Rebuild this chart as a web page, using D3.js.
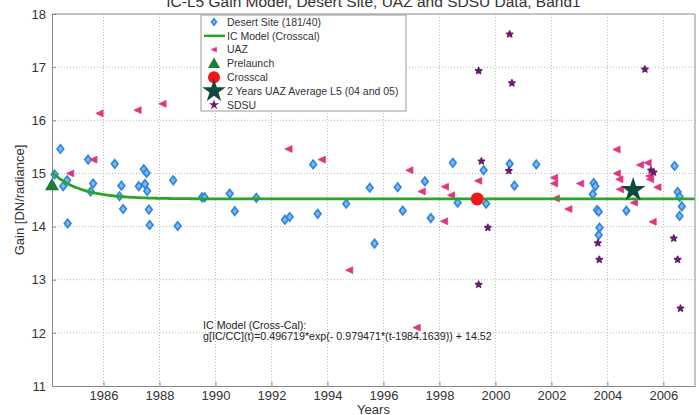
<!DOCTYPE html>
<html>
<head>
<meta charset="utf-8">
<script src="https://cdn.jsdelivr.net/npm/d3@7/dist/d3.min.js"></script>
<style>
  html, body { margin: 0; padding: 0; background: #fff; }
  svg { display: block; font-family: Arial, "Liberation Sans", sans-serif; }
</style>
</head>
<body>
<svg id="chart" width="699" height="415"></svg>
<script>
// ---- data ----
const chartTitle = "IC-L5 Gain Model, Desert Site, UAZ and SDSU Data, Band1";
const xTicks = [1986, 1988, 1990, 1992, 1994, 1996, 1998, 2000, 2002, 2004, 2006];
const yTicks = [11, 12, 13, 14, 15, 16, 17, 18];

// Desert Site (181/40) gains: [year, gain]
const desertSite = [
  [1984.25, 14.98], [1984.46, 15.46], [1984.56, 14.76], [1984.70, 14.87], [1984.72, 14.06],
  [1985.45, 15.26], [1985.54, 14.66], [1985.63, 14.81],
  [1986.40, 15.18], [1986.57, 14.57], [1986.64, 14.77], [1986.70, 14.33],
  [1987.26, 14.76], [1987.44, 15.08], [1987.48, 14.80], [1987.54, 15.01], [1987.56, 14.67],
  [1987.62, 14.32], [1987.65, 14.03], [1988.49, 14.87], [1988.65, 14.01],
  [1989.52, 14.55], [1989.61, 14.55], [1990.51, 14.62], [1990.69, 14.29], [1991.46, 14.54],
  [1992.48, 14.13], [1992.65, 14.18], [1993.49, 15.17], [1993.65, 14.24],
  [1994.67, 14.43], [1995.51, 14.73], [1995.68, 13.68],
  [1996.51, 14.74], [1996.69, 14.30], [1997.48, 14.85], [1997.69, 14.16],
  [1998.48, 15.20], [1998.65, 14.45], [1999.58, 15.06], [1999.67, 14.43],
  [2000.51, 15.18], [2000.68, 14.77], [2001.46, 15.17],
  [2003.48, 14.61], [2003.51, 14.82], [2003.57, 14.76], [2003.63, 14.31], [2003.69, 14.28],
  [2003.72, 13.98], [2003.69, 13.84], [2004.68, 14.30],
  [2006.40, 15.14], [2006.51, 14.65], [2006.58, 14.56], [2006.66, 14.38], [2006.58, 14.20]
];

// UAZ reflectance-based gains
const uaz = [
  [1984.82, 15.00], [1985.65, 15.26], [1985.87, 16.13], [1987.23, 16.19], [1988.12, 16.31],
  [1992.62, 15.46], [1993.81, 15.26], [1994.79, 13.18],
  [1996.94, 15.06], [1997.20, 12.10], [1997.38, 14.66], [1998.18, 14.10], [1998.21, 14.75],
  [1998.43, 14.59], [1999.40, 14.86],
  [2002.11, 14.92], [2002.11, 14.81], [2002.17, 14.53], [2002.62, 14.33], [2003.04, 14.81],
  [2004.34, 15.45], [2004.35, 15.00], [2004.44, 14.89], [2004.46, 14.70], [2004.96, 14.45],
  [2005.18, 15.16], [2005.45, 15.20], [2005.51, 14.95], [2005.54, 14.89], [2005.63, 14.09],
  [2005.80, 14.74]
];

// SDSU gains
const sdsu = [
  [1999.40, 16.93], [1999.50, 15.23], [1999.73, 13.98], [1999.40, 12.91],
  [2000.51, 17.62], [2000.59, 16.70], [2000.48, 15.05],
  [2003.66, 13.69], [2003.71, 13.38],
  [2005.34, 16.96], [2005.56, 15.06], [2005.65, 15.02],
  [2006.37, 13.78], [2006.51, 13.38], [2006.61, 12.46]
];

const prelaunch = [[1984.16, 14.78]];
const crosscal = [[1999.35, 14.52]];
const uazAverage = [[2004.92, 14.69]];

// IC model (Cross-Cal) coefficients: g(t) = A*exp(-K*(t - T0)) + C
const modelA = 0.496719, modelK = 0.979471, modelT0 = 1984.1639, modelC = 14.52;

(function draw() {
  const svg = d3.select("#chart");
  const plotLeft = 52, plotRight = 695, plotTop = 14, plotBottom = 386;
  const x = d3.scaleLinear().domain([1984.16, 2007.13]).range([plotLeft, plotRight]);
  const y = d3.scaleLinear().domain([11, 18]).range([plotBottom, plotTop]);

  const textColor = "#333";
  const gridColor = "#b8b8b8";
  const frameColor = "#8a8a8a";

  // grid
  const grid = svg.append("g");
  grid.selectAll("line.vx").data(xTicks).join("line")
    .attr("x1", d => x(d)).attr("x2", d => x(d))
    .attr("y1", plotTop).attr("y2", plotBottom)
    .attr("stroke", gridColor).attr("stroke-width", 1).attr("stroke-dasharray", "1,2");
  grid.selectAll("line.hy").data(yTicks.slice(1, -1)).join("line")
    .attr("x1", plotLeft).attr("x2", plotRight)
    .attr("y1", d => y(d)).attr("y2", d => y(d))
    .attr("stroke", gridColor).attr("stroke-width", 1).attr("stroke-dasharray", "1,2");

  // axes
  const xAxis = d3.axisBottom(x).tickValues(xTicks).tickFormat(d3.format("d")).tickSizeInner(-4).tickSizeOuter(0).tickPadding(5);
  const yAxis = d3.axisLeft(y).tickValues(yTicks).tickFormat(d3.format("d")).tickSizeInner(-4).tickSizeOuter(0).tickPadding(6);
  const gx = svg.append("g").attr("transform", `translate(0,${plotBottom})`).call(xAxis);
  const gy = svg.append("g").attr("transform", `translate(${plotLeft},0)`).call(yAxis);
  [gx, gy].forEach(g => {
    g.select(".domain").attr("stroke", frameColor);
    g.selectAll(".tick line").attr("stroke", frameColor);
    g.selectAll(".tick text").attr("fill", textColor).style("font-size", "13px")
      .style("font-family", "Arial, 'Liberation Sans', sans-serif");
  });
  // top and right frame
  svg.append("line").attr("x1", plotLeft).attr("x2", plotRight).attr("y1", plotTop).attr("y2", plotTop).attr("stroke", frameColor);
  svg.append("line").attr("x1", plotRight).attr("x2", plotRight).attr("y1", plotTop).attr("y2", plotBottom).attr("stroke", frameColor);

  // axis titles
  svg.append("text").attr("x", (plotLeft + plotRight) / 2).attr("y", 413.5).attr("text-anchor", "middle")
    .attr("fill", textColor).style("font-size", "13px").text("Years");
  svg.append("text").attr("transform", `translate(24,${(plotTop + plotBottom) / 2}) rotate(-90)`)
    .attr("text-anchor", "middle").attr("fill", textColor).style("font-size", "13px")
    .text("Gain [DN/radiance]");

  // title (sits above the plot frame, partly beyond the page top)
  svg.append("text").attr("x", (plotLeft + plotRight) / 2).attr("y", 7).attr("text-anchor", "middle")
    .attr("fill", textColor).style("font-size", "15.5px").text(chartTitle);

  // marker shapes
  const diamondPath = (cx, cy, w, h) => `M${cx},${cy - h}L${cx + w},${cy}L${cx},${cy + h}L${cx - w},${cy}Z`;
  const leftTri = (cx, cy, s) => `M${cx - s},${cy}L${cx + s * 0.8},${cy - s * 0.85}L${cx + s * 0.8},${cy + s * 0.85}Z`;
  const upTri = (cx, cy, s) => `M${cx},${cy - s}L${cx + s},${cy + s * 0.75}L${cx - s},${cy + s * 0.75}Z`;

  const colDesertFill = "#7fb9ee", colDesertStroke = "#2f86dc";
  const colUaz = "#e2357f";
  const colSdsu = "#6a1c6e";
  const colModel = "#26a826";
  const colPre = "#1b7f33";
  const colCross = "#f21616";
  const colStar = "#0e4a3c";

  const marks = svg.append("g");

  // desert site
  marks.selectAll("path.desert").data(desertSite).join("path")
    .attr("d", d => diamondPath(x(d[0]), y(d[1]), 3.3, 4.2))
    .attr("fill", colDesertFill).attr("stroke", colDesertStroke).attr("stroke-width", 1.7);

  // UAZ
  marks.selectAll("path.uaz").data(uaz).join("path")
    .attr("d", d => leftTri(x(d[0]), y(d[1]), 4))
    .attr("fill", colUaz).attr("stroke", colUaz).attr("stroke-width", 0.8);

  // SDSU
  marks.selectAll("path.sdsu").data(sdsu).join("path")
    .attr("transform", d => `translate(${x(d[0])},${y(d[1])})`)
    .attr("d", d3.symbol().type(d3.symbolStar).size(12))
    .attr("fill", colSdsu).attr("stroke", colSdsu).attr("stroke-width", 1.6)
    .attr("stroke-linejoin", "round");

  // IC model curve
  const modelYears = d3.range(modelT0, 2007.13, 0.05);
  const modelLine = d3.line().x(t => x(t)).y(t => y(modelA * Math.exp(-modelK * (t - modelT0)) + modelC));
  marks.append("path").datum(modelYears).attr("d", modelLine)
    .attr("fill", "none").attr("stroke", colModel).attr("stroke-width", 2.8);

  // prelaunch
  marks.selectAll("path.pre").data(prelaunch).join("path")
    .attr("d", d => upTri(x(d[0]), y(d[1]), 7))
    .attr("fill", colPre);

  // crosscal
  marks.selectAll("circle.cross").data(crosscal).join("circle")
    .attr("cx", d => x(d[0])).attr("cy", d => y(d[1])).attr("r", 6.5)
    .attr("fill", colCross);

  // UAZ 2-year average
  marks.selectAll("path.star").data(uazAverage).join("path")
    .attr("transform", d => `translate(${x(d[0])},${y(d[1])})`)
    .attr("d", d3.symbol().type(d3.symbolStar).size(190))
    .attr("fill", colStar);

  // annotation
  const ann = svg.append("g").attr("fill", "#222").style("font-size", "10.7px");
  ann.append("text").attr("x", 203).attr("y", 328.5).text("IC Model (Cross-Cal):");
  ann.append("text").attr("x", 203).attr("y", 340)
    .text(`g[IC/CC](t)=${modelA}*exp(- ${modelK}*(t-${modelT0})) + ${modelC}`);

  // legend
  const lg = svg.append("g");
  lg.append("rect").attr("x", 201).attr("y", 15).attr("width", 205).attr("height", 96)
    .attr("fill", "#fff").attr("stroke", "#9a9a9a").attr("stroke-width", 1);
  const legendItems = [
    { label: "Desert Site (181/40)", kind: "desert" },
    { label: "IC Model (Crosscal)", kind: "model" },
    { label: "UAZ", kind: "uaz" },
    { label: "Prelaunch", kind: "pre" },
    { label: "Crosscal", kind: "cross" },
    { label: "2 Years UAZ Average L5 (04 and 05)", kind: "star" },
    { label: "SDSU", kind: "sdsu" }
  ];
  const ly0 = 22, ldy = 13.8, lsx = 214;
  legendItems.forEach((it, i) => {
    const cy = ly0 + i * ldy;
    if (it.kind === "desert") lg.append("path").attr("d", diamondPath(lsx, cy, 2.6, 3.4)).attr("fill", colDesertFill).attr("stroke", colDesertStroke).attr("stroke-width", 1.4);
    if (it.kind === "model") lg.append("line").attr("x1", 204).attr("x2", 225).attr("y1", cy).attr("y2", cy).attr("stroke", colModel).attr("stroke-width", 2.4);
    if (it.kind === "uaz") lg.append("path").attr("d", leftTri(lsx, cy, 3.5)).attr("fill", colUaz);
    if (it.kind === "pre") lg.append("path").attr("d", upTri(lsx, cy, 6)).attr("fill", colPre);
    if (it.kind === "cross") lg.append("circle").attr("cx", lsx).attr("cy", cy).attr("r", 6).attr("fill", colCross);
    if (it.kind === "star") lg.append("path").attr("transform", `translate(${lsx},${cy})`).attr("d", d3.symbol().type(d3.symbolStar).size(170)).attr("fill", colStar);
    if (it.kind === "sdsu") lg.append("path").attr("transform", `translate(${lsx},${cy})`).attr("d", d3.symbol().type(d3.symbolStar).size(10)).attr("fill", colSdsu).attr("stroke", colSdsu).attr("stroke-width", 1.5);
    lg.append("text").attr("x", 227).attr("y", cy + 3.8).attr("fill", textColor)
      .style("font-size", "10.5px").text(it.label);
  });
})();
</script>
</body>
</html>
